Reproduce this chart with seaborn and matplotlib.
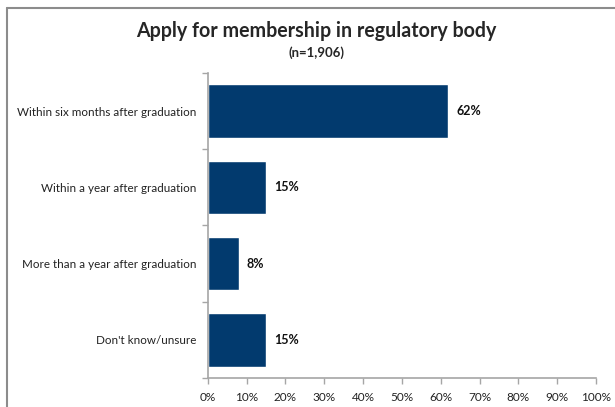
import numpy as np
import matplotlib
matplotlib.use("Agg")
import matplotlib.pyplot as plt
import matplotlib.ticker as mtick
import pandas as pd
import seaborn as sns

#------------------data-------------------
categories = ["Within six months after graduation",
              "Within a year after graduation",
              "More than a year after graduation",
              "Don't know/unsure"]
values = [62, 15, 8, 15]
x_ticks = [0, 10, 20, 30, 40, 50, 60, 70, 80, 90, 100]

BAR_COLOR = "#023A6E"
AXIS_COLOR = "#A6A6A6"

sns.set_style("white")
plt.rcParams['font.family'] = ['Lato', 'DejaVu Sans']

df = pd.DataFrame({"category": categories, "value": values})

fig = plt.figure(figsize=(6.15, 4.07), dpi=100)
ax = fig.add_axes([0.338, 0.0713, 0.631, 0.7494])

sns.barplot(data=df, x="value", y="category", color=BAR_COLOR,
            width=0.7, saturation=1, ax=ax)

ax.set_xlim(0, 100)
ax.set_ylim(len(categories) - 0.5, -0.5)
ax.set_xticks(x_ticks)
ax.xaxis.set_major_formatter(mtick.FuncFormatter(lambda v, p: f"{v:.0f}%"))
ax.set_xlabel("")
ax.set_ylabel("")

# boundary ticks on y axis
ax.set_yticks(np.arange(-0.5, len(categories) + 0.5, 1), minor=True)
ax.tick_params(axis="y", which="major", length=0, pad=8, labelsize=8.4,
               labelcolor="#222222")
ax.tick_params(axis="y", which="minor", length=4, color=AXIS_COLOR,
               width=1, left=True)
ax.tick_params(axis="x", length=4, color=AXIS_COLOR, width=1, bottom=True,
               labelsize=8.5, labelcolor="#222222", pad=6)

for s in ["top", "right"]:
    ax.spines[s].set_visible(False)
for s in ["left", "bottom"]:
    ax.spines[s].set_color(AXIS_COLOR)
    ax.spines[s].set_linewidth(1.2)

for i, v in enumerate(values):
    ax.text(v + 2, i, f"{v}%", va="center", ha="left", fontsize=9,
            fontweight="bold", color="#111111")

fig.text(0.514, 0.925, "Apply for membership in regulatory body",
         ha="center", va="center", fontsize=14.1, fontweight="bold")
fig.text(0.514, 0.871, "(n=1,906)", ha="center", va="center",
         fontsize=9.5, fontweight="bold")

# chart-area border (left and top)
fig.add_artist(plt.Line2D([7 / 615, 7 / 615], [0, 1 - 8 / 407],
                          color="#8C8C8C", lw=1.5, transform=fig.transFigure))
fig.add_artist(plt.Line2D([7 / 615, 1], [1 - 8 / 407, 1 - 8 / 407],
                          color="#8C8C8C", lw=1.5, transform=fig.transFigure))

fig.savefig("out.png", dpi=100)
